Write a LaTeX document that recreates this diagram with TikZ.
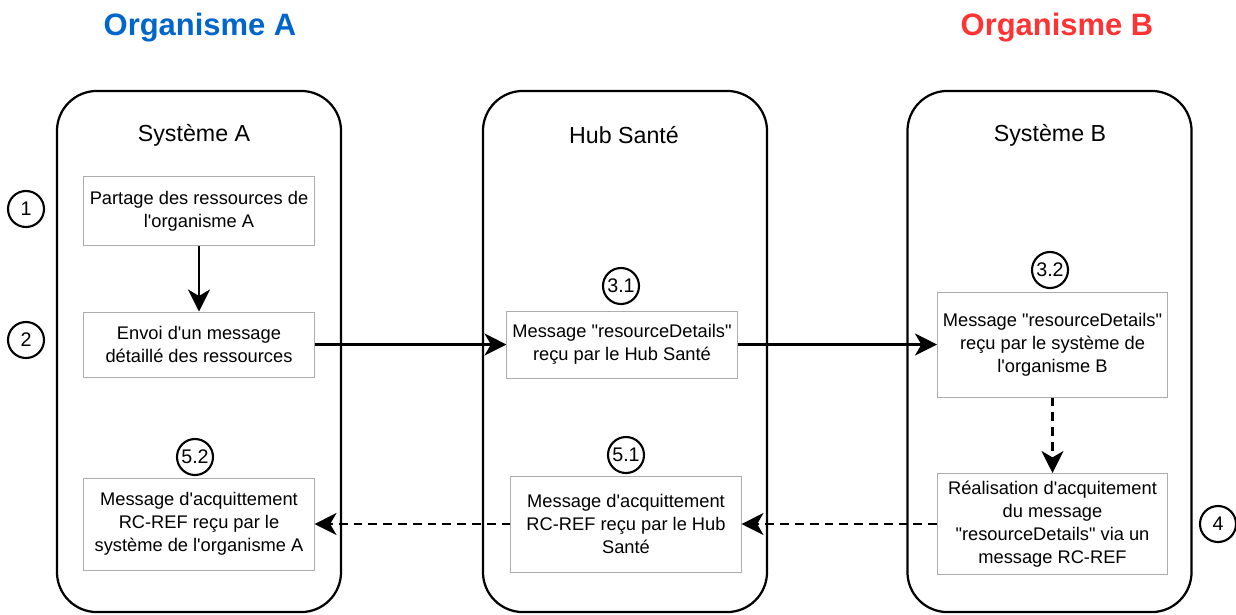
\documentclass[tikz,border=0pt]{standalone}
\usepackage{fontspec}
\setmainfont{Liberation Sans}[Ligatures=TeXOff]
\usepackage{tikz}
\usetikzlibrary{arrows.meta,positioning}
\definecolor{orgA}{HTML}{0066CC}
\definecolor{orgB}{HTML}{FF3333}

\begin{document}
\begin{tikzpicture}[
  x=0.025cm, y=-0.025cm,
  system/.style={draw, rounded corners=1cm, line width=1.6pt, minimum width=7.1cm, minimum height=13.025cm, inner sep=0pt},
  systitle/.style={font=\fontsize{16.5}{20}\selectfont},
  orgtitle/.style={font=\fontsize{22}{26}\selectfont\bfseries},
  msg/.style={draw=black!32, line width=0.7pt, minimum width=5.75cm, inner sep=0pt, align=center, font=\fontsize{13}{16.4}\selectfont},
  num/.style={circle, draw, line width=1.5pt, minimum size=0.9cm, inner sep=0pt, font=\fontsize{14}{16}\selectfont},
  arr/.style={-{Stealth[length=0.55cm, width=0.55cm, inset=0.16cm]}, line width=1.6pt},
  dasharr/.style={arr, dash pattern=on 0.22cm off 0.15cm}
]
\useasboundingbox (0,0) rectangle (1236,614);
\node[orgtitle, text=orgA] (orgA) at (200,28) {Organisme A};
\node[orgtitle, text=orgB] (orgB) at (1057,28) {Organisme B};
\node[system] (sysA) at (199,351.5) {};
\node[system] (hub)  at (625,351.5) {};
\node[system] (sysB) at (1049.5,351.5) {};
\node[systitle] (tA)   at (194,135) {Système A};
\node[systitle] (tHub) at (624,135) {Hub Santé};
\node[systitle] (tB)   at (1050,135) {Système B};
\node[msg, minimum height=1.725cm] (partage) at (199,211) {Partage des ressources de\\l'organisme A};
\node[msg, minimum height=1.625cm] (envoi)   at (199,344.5) {Envoi d'un message\\détaillé des ressources};
\node[msg, minimum height=2.3cm]   (ackA)    at (199,524) {Message d'acquittement\\RC-REF reçu par le\\système de l'organisme A};
\node[msg, minimum height=1.675cm] (recuHub) at (622,344.5) {Message "resourceDetails"\\reçu par le Hub Santé};
\node[msg, minimum height=2.4cm]   (ackHub)  at (626,524) {Message d'acquittement\\RC-REF reçu par le Hub\\Santé};
\node[msg, minimum height=2.625cm] (recuB)   at (1052.5,344.5) {Message "resourceDetails"\\reçu par le système de\\l'organisme B};
\node[msg, minimum height=2.525cm] (realB)   at (1052.5,524) {Réalisation d'acquitement\\du message\\"resourceDetails" via un\\message RC-REF};
\node[num] (n1)  at (26,209) {1};
\node[num] (n2)  at (26,340) {2};
\node[num] (n31) at (621,286) {3.1};
\node[num] (n32) at (1050,270) {3.2};
\node[num] (n4)  at (1218,524) {4};
\node[num] (n51) at (626,455) {5.1};
\node[num] (n52) at (195,457) {5.2};
\draw[arr] (partage) -- (envoi);
\draw[arr] (envoi) -- (recuHub);
\draw[arr] (recuHub) -- (recuB);
\draw[dasharr] (recuB) -- (realB);
\draw[dasharr] (realB) -- (ackHub);
\draw[dasharr] (ackHub) -- (ackA);
\end{tikzpicture}
\end{document}
